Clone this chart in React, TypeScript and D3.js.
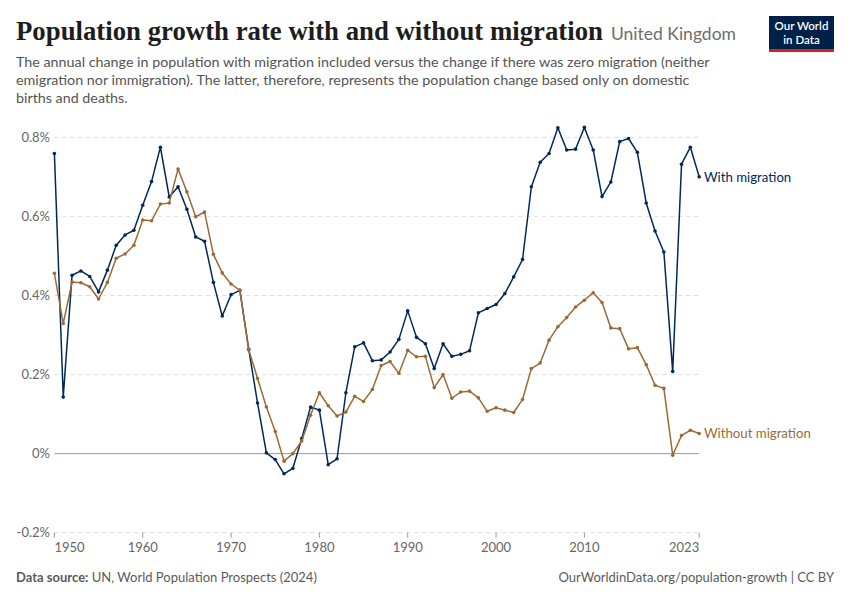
import * as d3 from "d3"

// Annual population change (%), United Kingdom, 1950–2023
const years = d3.range(1950, 2024)

const withMigration = [
  0.759, 0.143, 0.451, 0.462, 0.448, 0.409, 0.464, 0.527, 0.553, 0.565,
  0.628, 0.688, 0.775, 0.649, 0.675, 0.618, 0.548, 0.537, 0.433, 0.348,
  0.402, 0.413, 0.264, 0.128, 0.002, -0.015, -0.051, -0.037, 0.038, 0.118,
  0.11, -0.028, -0.013, 0.154, 0.27, 0.28, 0.235, 0.237, 0.257, 0.289,
  0.361, 0.294, 0.278, 0.215, 0.278, 0.246, 0.251, 0.26, 0.356, 0.367,
  0.377, 0.405, 0.447, 0.491, 0.675, 0.737, 0.759, 0.824, 0.768, 0.77,
  0.825, 0.768, 0.65, 0.687, 0.789, 0.797, 0.762, 0.634, 0.563, 0.51,
  0.208, 0.732, 0.775, 0.7,
]

const withoutMigration = [
  0.456, 0.329, 0.434, 0.432, 0.422, 0.391, 0.433, 0.494, 0.505, 0.527,
  0.591, 0.589, 0.631, 0.634, 0.72, 0.662, 0.599, 0.611, 0.504, 0.457,
  0.429, 0.413, 0.263, 0.19, 0.118, 0.056, -0.019, 0.0, 0.032, 0.097,
  0.154, 0.121, 0.095, 0.105, 0.145, 0.132, 0.162, 0.223, 0.233, 0.203,
  0.261, 0.245, 0.246, 0.167, 0.2, 0.14, 0.156, 0.158, 0.141, 0.107,
  0.116, 0.11, 0.104, 0.137, 0.215, 0.229, 0.287, 0.321, 0.344, 0.371,
  0.388, 0.407, 0.382, 0.318, 0.316, 0.265, 0.268, 0.225, 0.173, 0.165,
  -0.004, 0.046, 0.059, 0.051,
]

const yTicks = [-0.2, 0, 0.2, 0.4, 0.6, 0.8]
const xTicks = [1950, 1960, 1970, 1980, 1990, 2000, 2010, 2023]

const subtitleLines = [
  "The annual change in population with migration included versus the change if there was zero migration (neither",
  "emigration nor immigration). The latter, therefore, represents the population change based only on domestic",
  "births and deaths.",
]

const BLUE = "#00295b"
const BROWN = "#9a6b36"
const FONT = "Lato, 'Noto Sans', sans-serif"

export default function App() {
  const W = 850
  const H = 600

  const x = d3.scaleLinear().domain([1950, 2023]).range([54.4, 699.2])
  const y = d3.scaleLinear().domain([-0.2, 0.8]).range([532.7, 137.3])

  const line = d3
    .line<number>()
    .x((_, i) => x(years[i]))
    .y((d) => y(d))

  const series = [
    { name: "With migration", values: withMigration, color: BLUE },
    { name: "Without migration", values: withoutMigration, color: BROWN },
  ]

  const fmt = (v: number) => (v === 0 ? "0%" : `${v.toFixed(1)}%`)

  return (
    <>
      <style>{`body{margin:0}`}</style>
      <svg width={W} height={H} viewBox={`0 0 ${W} ${H}`} style={{ display: "block", background: "#fff" }}>
        {/* header */}
        <text
          x={16}
          y={40}
          fontFamily="'Liberation Serif', serif"
          fontWeight={600}
          fontSize={27}
          fill="#1d1d1d"
          textLength={587}
          lengthAdjust="spacingAndGlyphs"
        >
          Population growth rate with and without migration
        </text>
        <text x={611} y={40} fontFamily={FONT} fontSize={17.5} fill="#6e6e6e">
          United Kingdom
        </text>
        {subtitleLines.map((t, i) => (
          <text key={i} x={16} y={66.5 + i * 18.3} fontFamily={FONT} fontSize={14.3} fill="#555">
            {t}
          </text>
        ))}

        {/* logo */}
        <g>
          <rect x={769} y={16} width={65} height={36} fill="#002147" />
          <rect x={769} y={49} width={65} height={3} fill="#ce261e" />
          <text x={801.5} y={30} textAnchor="middle" fontFamily={FONT} fontSize={11.5} fontWeight={600} fill="#fff">
            Our World
          </text>
          <text x={801.5} y={43.5} textAnchor="middle" fontFamily={FONT} fontSize={11.5} fontWeight={600} fill="#fff">
            in Data
          </text>
        </g>

        {/* y grid + labels */}
        {yTicks.map((t) => (
          <g key={t}>
            <line
              x1={x(1950)}
              x2={x(2023)}
              y1={y(t)}
              y2={y(t)}
              stroke={t === 0 ? "#999" : "#ddd"}
              strokeDasharray={t === 0 ? undefined : "4,4"}
              strokeWidth={1}
            />
            <text x={50} y={y(t) + 4.5} textAnchor="end" fontFamily={FONT} fontSize={13} fill="#666">
              {fmt(t)}
            </text>
          </g>
        ))}

        {/* x ticks */}
        {xTicks.map((t, i) => (
          <g key={t}>
            <line x1={x(t)} x2={x(t)} y1={y(-0.2)} y2={y(-0.2) + 5} stroke="#999" />
            <text
              x={x(t)}
              y={552}
              textAnchor={i === 0 ? "start" : i === xTicks.length - 1 ? "end" : "middle"}
              fontFamily={FONT}
              fontSize={13}
              fill="#666"
            >
              {t}
            </text>
          </g>
        ))}

        {/* series */}
        {series.map((s) => (
          <g key={s.name}>
            <path d={line(s.values) ?? ""} fill="none" stroke={s.color} strokeWidth={1.5} strokeLinejoin="round" />
            {s.values.map((v, i) => (
              <circle key={i} cx={x(years[i])} cy={y(v)} r={1.8} fill={s.color} />
            ))}
            <text
              x={704}
              y={y(s.values[s.values.length - 1]) + 5}
              fontFamily={FONT}
              fontSize={13.2}
              fill={s.color}
            >
              {s.name}
            </text>
          </g>
        ))}

        {/* footer */}
        <text x={16} y={582} fontFamily={FONT} fontSize={13} fill="#5b5b5b">
          <tspan fontWeight={700}>Data source:</tspan> UN, World Population Prospects (2024)
        </text>
        <text x={834} y={582} textAnchor="end" fontFamily={FONT} fontSize={13} fill="#5b5b5b">
          OurWorldinData.org/population-growth | CC BY
        </text>
      </svg>
    </>
  )
}
